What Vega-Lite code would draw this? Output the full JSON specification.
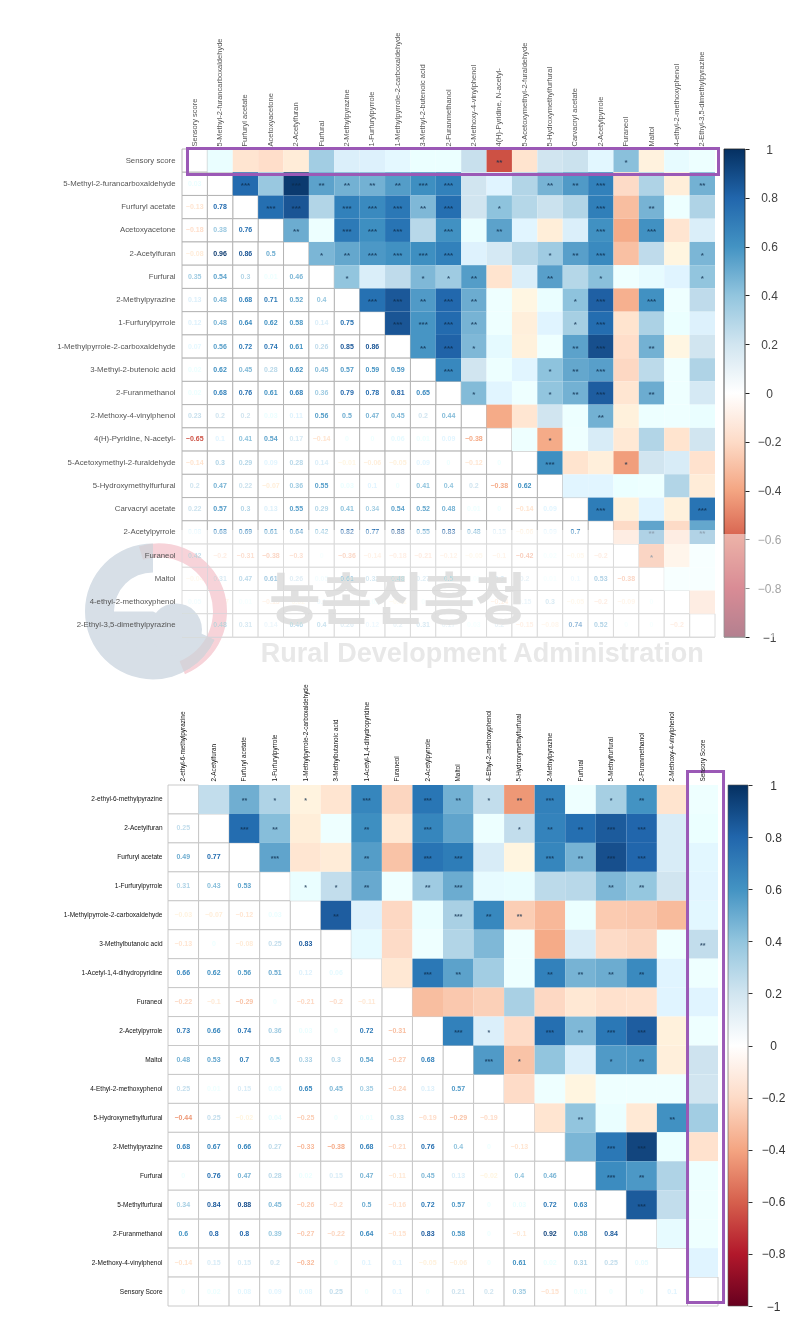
{"$schema":"https://vega.github.io/schema/vega-lite/v6.json","padding":0,"background":"white","config":{"view":{"stroke":null},"axis":{"grid":false}},
"datasets":{"top":[
{"i":0,"j":0},{"i":1,"j":1},{"i":2,"j":2},{"i":3,"j":3},{"i":4,"j":4},{"i":5,"j":5},{"i":6,"j":6},{"i":7,"j":7},{"i":8,"j":8},{"i":9,"j":9},{"i":10,"j":10},{"i":11,"j":11},{"i":12,"j":12},{"i":13,"j":13},{"i":14,"j":14},{"i":15,"j":15},{"i":16,"j":16},{"i":17,"j":17},{"i":18,"j":18},{"i":19,"j":19},{"i":20,"j":20},
{"i":0,"j":1,"v":0.03},{"i":0,"j":2,"v":-0.13},{"i":0,"j":3,"v":-0.18},{"i":0,"j":4,"v":-0.08},{"i":0,"j":5,"v":0.35},{"i":0,"j":6,"v":0.13},{"i":0,"j":7,"v":0.12},{"i":0,"j":8,"v":0.07},{"i":0,"j":9,"v":0.02},{"i":0,"j":10,"v":0.02},{"i":0,"j":11,"v":0.23},{"i":0,"j":12,"v":-0.65,"s":"**"},{"i":0,"j":13,"v":-0.14},{"i":0,"j":14,"v":0.2},{"i":0,"j":15,"v":0.22},{"i":0,"j":16,"v":0.08},{"i":0,"j":17,"v":0.42,"s":"*"},{"i":0,"j":18,"v":-0.04},{"i":0,"j":19,"v":0.05},{"i":0,"j":20,"v":0.01},
{"i":1,"j":2,"v":0.78,"s":"***"},{"i":1,"j":3,"v":0.38},{"i":1,"j":4,"v":0.96,"s":"***"},{"i":1,"j":5,"v":0.54,"s":"**"},{"i":1,"j":6,"v":0.48,"s":"**"},{"i":1,"j":7,"v":0.48,"s":"**"},{"i":1,"j":8,"v":0.56,"s":"**"},{"i":1,"j":9,"v":0.62,"s":"***"},{"i":1,"j":10,"v":0.68,"s":"***"},{"i":1,"j":11,"v":0.2},{"i":1,"j":12,"v":0.1},{"i":1,"j":13,"v":0.3},{"i":1,"j":14,"v":0.47,"s":"**"},{"i":1,"j":15,"v":0.57,"s":"**"},{"i":1,"j":16,"v":0.68,"s":"***"},{"i":1,"j":17,"v":-0.2},{"i":1,"j":18,"v":0.31},{"i":1,"j":19,"v":-0.07},{"i":1,"j":20,"v":0.48,"s":"**"},
{"i":2,"j":3,"v":0.76,"s":"***"},{"i":2,"j":4,"v":0.86,"s":"***"},{"i":2,"j":5,"v":0.3},{"i":2,"j":6,"v":0.68,"s":"***"},{"i":2,"j":7,"v":0.64,"s":"***"},{"i":2,"j":8,"v":0.72,"s":"***"},{"i":2,"j":9,"v":0.45,"s":"**"},{"i":2,"j":10,"v":0.76,"s":"***"},{"i":2,"j":11,"v":0.2},{"i":2,"j":12,"v":0.41,"s":"*"},{"i":2,"j":13,"v":0.29},{"i":2,"j":14,"v":0.22},{"i":2,"j":15,"v":0.3},{"i":2,"j":16,"v":0.69,"s":"***"},{"i":2,"j":17,"v":-0.31},{"i":2,"j":18,"v":0.47,"s":"**"},{"i":2,"j":19,"v":0.01},{"i":2,"j":20,"v":0.31},
{"i":3,"j":4,"v":0.5,"s":"**"},{"i":3,"j":5,"v":0.01},{"i":3,"j":6,"v":0.71,"s":"***"},{"i":3,"j":7,"v":0.62,"s":"***"},{"i":3,"j":8,"v":0.74,"s":"***"},{"i":3,"j":9,"v":0.28},{"i":3,"j":10,"v":0.61,"s":"***"},{"i":3,"j":11,"v":0.03},{"i":3,"j":12,"v":0.54,"s":"**"},{"i":3,"j":13,"v":0.09},{"i":3,"j":14,"v":-0.07},{"i":3,"j":15,"v":0.13},{"i":3,"j":16,"v":0.61,"s":"***"},{"i":3,"j":17,"v":-0.38},{"i":3,"j":18,"v":0.61,"s":"***"},{"i":3,"j":19,"v":-0.13},{"i":3,"j":20,"v":0.14},
{"i":4,"j":5,"v":0.46,"s":"*"},{"i":4,"j":6,"v":0.52,"s":"**"},{"i":4,"j":7,"v":0.58,"s":"***"},{"i":4,"j":8,"v":0.61,"s":"***"},{"i":4,"j":9,"v":0.62,"s":"***"},{"i":4,"j":10,"v":0.68,"s":"***"},{"i":4,"j":11,"v":0.11},{"i":4,"j":12,"v":0.17},{"i":4,"j":13,"v":0.28},{"i":4,"j":14,"v":0.36,"s":"*"},{"i":4,"j":15,"v":0.55,"s":"**"},{"i":4,"j":16,"v":0.64,"s":"***"},{"i":4,"j":17,"v":-0.3},{"i":4,"j":18,"v":0.26},{"i":4,"j":19,"v":-0.02},{"i":4,"j":20,"v":0.46,"s":"*"},
{"i":5,"j":6,"v":0.4,"s":"*"},{"i":5,"j":7,"v":0.14},{"i":5,"j":8,"v":0.26},{"i":5,"j":9,"v":0.45,"s":"*"},{"i":5,"j":10,"v":0.36,"s":"*"},{"i":5,"j":11,"v":0.56,"s":"**"},{"i":5,"j":12,"v":-0.14},{"i":5,"j":13,"v":0.14},{"i":5,"j":14,"v":0.55,"s":"**"},{"i":5,"j":15,"v":0.29},{"i":5,"j":16,"v":0.42,"s":"*"},{"i":5,"j":17,"v":0},{"i":5,"j":18,"v":0.05},{"i":5,"j":19,"v":0.1},{"i":5,"j":20,"v":0.4,"s":"*"},
{"i":6,"j":7,"v":0.75,"s":"***"},{"i":6,"j":8,"v":0.85,"s":"***"},{"i":6,"j":9,"v":0.57,"s":"**"},{"i":6,"j":10,"v":0.79,"s":"***"},{"i":6,"j":11,"v":0.5,"s":"**"},{"i":6,"j":12,"v":0},{"i":6,"j":13,"v":-0.01},{"i":6,"j":14,"v":0.03},{"i":6,"j":15,"v":0.41,"s":"*"},{"i":6,"j":16,"v":0.82,"s":"***"},{"i":6,"j":17,"v":-0.36},{"i":6,"j":18,"v":0.61,"s":"***"},{"i":6,"j":19,"v":0},{"i":6,"j":20,"v":0.26},
{"i":7,"j":8,"v":0.86,"s":"***"},{"i":7,"j":9,"v":0.59,"s":"***"},{"i":7,"j":10,"v":0.78,"s":"***"},{"i":7,"j":11,"v":0.47,"s":"**"},{"i":7,"j":12,"v":0},{"i":7,"j":13,"v":-0.06},{"i":7,"j":14,"v":0.1},{"i":7,"j":15,"v":0.34,"s":"*"},{"i":7,"j":16,"v":0.77,"s":"***"},{"i":7,"j":17,"v":-0.14},{"i":7,"j":18,"v":0.32},{"i":7,"j":19,"v":0.02},{"i":7,"j":20,"v":0.12},
{"i":8,"j":9,"v":0.59,"s":"**"},{"i":8,"j":10,"v":0.81,"s":"***"},{"i":8,"j":11,"v":0.45,"s":"*"},{"i":8,"j":12,"v":0.06},{"i":8,"j":13,"v":-0.05},{"i":8,"j":14,"v":0},{"i":8,"j":15,"v":0.54,"s":"**"},{"i":8,"j":16,"v":0.88,"s":"***"},{"i":8,"j":17,"v":-0.18},{"i":8,"j":18,"v":0.48,"s":"**"},{"i":8,"j":19,"v":-0.01},{"i":8,"j":20,"v":0.2},
{"i":9,"j":10,"v":0.65,"s":"***"},{"i":9,"j":11,"v":0.2},{"i":9,"j":12,"v":0.01},{"i":9,"j":13,"v":0.09},{"i":9,"j":14,"v":0.41,"s":"*"},{"i":9,"j":15,"v":0.52,"s":"**"},{"i":9,"j":16,"v":0.55,"s":"***"},{"i":9,"j":17,"v":-0.21},{"i":9,"j":18,"v":0.27},{"i":9,"j":19,"v":0},{"i":9,"j":20,"v":0.31},
{"i":10,"j":11,"v":0.44,"s":"*"},{"i":10,"j":12,"v":0.09},{"i":10,"j":13,"v":0},{"i":10,"j":14,"v":0.4,"s":"*"},{"i":10,"j":15,"v":0.48,"s":"**"},{"i":10,"j":16,"v":0.83,"s":"***"},{"i":10,"j":17,"v":-0.12},{"i":10,"j":18,"v":0.5,"s":"**"},{"i":10,"j":19,"v":0},{"i":10,"j":20,"v":0.17},
{"i":11,"j":12,"v":-0.38},{"i":11,"j":13,"v":-0.12},{"i":11,"j":14,"v":0.2},{"i":11,"j":15,"v":0.01},{"i":11,"j":16,"v":0.48,"s":"**"},{"i":11,"j":17,"v":-0.05},{"i":11,"j":18,"v":0.01},{"i":11,"j":19,"v":0},{"i":11,"j":20,"v":0.03},
{"i":12,"j":13,"v":0},{"i":12,"j":14,"v":-0.38,"s":"*"},{"i":12,"j":15,"v":0},{"i":12,"j":16,"v":0.15},{"i":12,"j":17,"v":-0.1},{"i":12,"j":18,"v":0.3},{"i":12,"j":19,"v":-0.14},{"i":12,"j":20,"v":0.2},
{"i":13,"j":14,"v":0.62,"s":"***"},{"i":13,"j":15,"v":-0.14},{"i":13,"j":16,"v":-0.06},{"i":13,"j":17,"v":-0.42,"s":"*"},{"i":13,"j":18,"v":0.2},{"i":13,"j":19,"v":0.15},{"i":13,"j":20,"v":-0.15},
{"i":14,"j":15,"v":0.09},{"i":14,"j":16,"v":0.09},{"i":14,"j":17,"v":0.02},{"i":14,"j":18,"v":0.01},{"i":14,"j":19,"v":0.3},{"i":14,"j":20,"v":-0.08},
{"i":15,"j":16,"v":0.7,"s":"***"},{"i":15,"j":17,"v":-0.05},{"i":15,"j":18,"v":0.1},{"i":15,"j":19,"v":-0.05},{"i":15,"j":20,"v":0.74,"s":"***"},
{"i":16,"j":17,"v":-0.2},{"i":16,"j":18,"v":0.53,"s":"**"},{"i":16,"j":19,"v":-0.2},{"i":16,"j":20,"v":0.52,"s":"**"},
{"i":17,"j":18,"v":-0.38,"s":"*"},{"i":17,"j":19,"v":-0.09},{"i":17,"j":20,"v":0},
{"i":18,"j":19,"v":0},{"i":18,"j":20,"v":0},{"i":19,"j":20,"v":-0.2}],
"bottom":[
{"i":0,"j":0},{"i":1,"j":1},{"i":2,"j":2},{"i":3,"j":3},{"i":4,"j":4},{"i":5,"j":5},{"i":6,"j":6},{"i":7,"j":7},{"i":8,"j":8},{"i":9,"j":9},{"i":10,"j":10},{"i":11,"j":11},{"i":12,"j":12},{"i":13,"j":13},{"i":14,"j":14},{"i":15,"j":15},{"i":16,"j":16},{"i":17,"j":17},
{"i":0,"j":1,"v":0.25},{"i":0,"j":2,"v":0.49,"s":"**"},{"i":0,"j":3,"v":0.31,"s":"*"},{"i":0,"j":4,"v":-0.03,"s":"*"},{"i":0,"j":5,"v":-0.13},{"i":0,"j":6,"v":0.66,"s":"***"},{"i":0,"j":7,"v":-0.22},{"i":0,"j":8,"v":0.73,"s":"***"},{"i":0,"j":9,"v":0.48,"s":"**"},{"i":0,"j":10,"v":0.25,"s":"*"},{"i":0,"j":11,"v":-0.44,"s":"**"},{"i":0,"j":12,"v":0.68,"s":"***"},{"i":0,"j":13,"v":0},{"i":0,"j":14,"v":0.34,"s":"*"},{"i":0,"j":15,"v":0.6,"s":"**"},{"i":0,"j":16,"v":-0.14},{"i":0,"j":17,"v":0},
{"i":1,"j":2,"v":0.77,"s":"***"},{"i":1,"j":3,"v":0.43,"s":"**"},{"i":1,"j":4,"v":-0.07},{"i":1,"j":5,"v":0},{"i":1,"j":6,"v":0.62,"s":"**"},{"i":1,"j":7,"v":-0.1},{"i":1,"j":8,"v":0.66,"s":"***"},{"i":1,"j":9,"v":0.53},{"i":1,"j":10,"v":0.01},{"i":1,"j":11,"v":0.25,"s":"*"},{"i":1,"j":12,"v":0.67,"s":"**"},{"i":1,"j":13,"v":0.76,"s":"**"},{"i":1,"j":14,"v":0.84,"s":"***"},{"i":1,"j":15,"v":0.8,"s":"***"},{"i":1,"j":16,"v":0.15},{"i":1,"j":17,"v":0.02},
{"i":2,"j":3,"v":0.53,"s":"***"},{"i":2,"j":4,"v":-0.12},{"i":2,"j":5,"v":-0.08},{"i":2,"j":6,"v":0.56,"s":"**"},{"i":2,"j":7,"v":-0.29},{"i":2,"j":8,"v":0.74,"s":"***"},{"i":2,"j":9,"v":0.7,"s":"***"},{"i":2,"j":10,"v":0.15},{"i":2,"j":11,"v":-0.02},{"i":2,"j":12,"v":0.66,"s":"***"},{"i":2,"j":13,"v":0.47,"s":"**"},{"i":2,"j":14,"v":0.88,"s":"***"},{"i":2,"j":15,"v":0.8,"s":"***"},{"i":2,"j":16,"v":0.15},{"i":2,"j":17,"v":0.08},
{"i":3,"j":4,"v":0.03,"s":"*"},{"i":3,"j":5,"v":0.25,"s":"*"},{"i":3,"j":6,"v":0.51,"s":"**"},{"i":3,"j":7,"v":0},{"i":3,"j":8,"v":0.36,"s":"**"},{"i":3,"j":9,"v":0.5,"s":"***"},{"i":3,"j":10,"v":0.05},{"i":3,"j":11,"v":0.04},{"i":3,"j":12,"v":0.27},{"i":3,"j":13,"v":0.28},{"i":3,"j":14,"v":0.45,"s":"**"},{"i":3,"j":15,"v":0.39,"s":"**"},{"i":3,"j":16,"v":0.2},{"i":3,"j":17,"v":0.09},
{"i":4,"j":5,"v":0.83,"s":"**"},{"i":4,"j":6,"v":0.12},{"i":4,"j":7,"v":-0.21},{"i":4,"j":8,"v":0.03},{"i":4,"j":9,"v":0.33,"s":"***"},{"i":4,"j":10,"v":0.65,"s":"**"},{"i":4,"j":11,"v":-0.25,"s":"**"},{"i":4,"j":12,"v":-0.33},{"i":4,"j":13,"v":0.02},{"i":4,"j":14,"v":-0.26},{"i":4,"j":15,"v":-0.27},{"i":4,"j":16,"v":-0.32},{"i":4,"j":17,"v":0.08},
{"i":5,"j":6,"v":0.06},{"i":5,"j":7,"v":-0.2},{"i":5,"j":8,"v":0},{"i":5,"j":9,"v":0.3},{"i":5,"j":10,"v":0.45},{"i":5,"j":11,"v":0},{"i":5,"j":12,"v":-0.38},{"i":5,"j":13,"v":0.15},{"i":5,"j":14,"v":-0.2},{"i":5,"j":15,"v":-0.22},{"i":5,"j":16,"v":0},{"i":5,"j":17,"v":0.25,"s":"**"},
{"i":6,"j":7,"v":-0.11},{"i":6,"j":8,"v":0.72,"s":"***"},{"i":6,"j":9,"v":0.54,"s":"**"},{"i":6,"j":10,"v":0.35},{"i":6,"j":11,"v":0.01},{"i":6,"j":12,"v":0.68,"s":"**"},{"i":6,"j":13,"v":0.47,"s":"**"},{"i":6,"j":14,"v":0.5,"s":"**"},{"i":6,"j":15,"v":0.64,"s":"**"},{"i":6,"j":16,"v":0.1},{"i":6,"j":17,"v":0},
{"i":7,"j":8,"v":-0.31},{"i":7,"j":9,"v":-0.27},{"i":7,"j":10,"v":-0.24},{"i":7,"j":11,"v":0.33},{"i":7,"j":12,"v":-0.21},{"i":7,"j":13,"v":-0.11},{"i":7,"j":14,"v":-0.16},{"i":7,"j":15,"v":-0.15},{"i":7,"j":16,"v":0.1},{"i":7,"j":17,"v":0.1},
{"i":8,"j":9,"v":0.68,"s":"***"},{"i":8,"j":10,"v":0.13,"s":"*"},{"i":8,"j":11,"v":-0.19},{"i":8,"j":12,"v":0.76,"s":"***"},{"i":8,"j":13,"v":0.45,"s":"**"},{"i":8,"j":14,"v":0.72,"s":"***"},{"i":8,"j":15,"v":0.83,"s":"***"},{"i":8,"j":16,"v":-0.05},{"i":8,"j":17,"v":0},
{"i":9,"j":10,"v":0.57,"s":"***"},{"i":9,"j":11,"v":-0.29,"s":"*"},{"i":9,"j":12,"v":0.4},{"i":9,"j":13,"v":0.13},{"i":9,"j":14,"v":0.57,"s":"*"},{"i":9,"j":15,"v":0.58,"s":"**"},{"i":9,"j":16,"v":-0.06},{"i":9,"j":17,"v":0.21},
{"i":10,"j":11,"v":-0.19},{"i":10,"j":12,"v":0},{"i":10,"j":13,"v":-0.02},{"i":10,"j":14,"v":0},{"i":10,"j":15,"v":0},{"i":10,"j":16,"v":0},{"i":10,"j":17,"v":0.2},
{"i":11,"j":12,"v":-0.13},{"i":11,"j":13,"v":0.4,"s":"**"},{"i":11,"j":14,"v":0.03},{"i":11,"j":15,"v":-0.1},{"i":11,"j":16,"v":0.61,"s":"**"},{"i":11,"j":17,"v":0.35},
{"i":12,"j":13,"v":0.46},{"i":12,"j":14,"v":0.72,"s":"***"},{"i":12,"j":15,"v":0.92,"s":"***"},{"i":12,"j":16,"v":0.02},{"i":12,"j":17,"v":-0.15},
{"i":13,"j":14,"v":0.63,"s":"***"},{"i":13,"j":15,"v":0.58,"s":"**"},{"i":13,"j":16,"v":0.31},{"i":13,"j":17,"v":0.01},
{"i":14,"j":15,"v":0.84,"s":"***"},{"i":14,"j":16,"v":0.25},{"i":14,"j":17,"v":0},
{"i":15,"j":16,"v":0.05},{"i":15,"j":17,"v":0},{"i":16,"j":17,"v":0.1}]},
"spacing":4,"vconcat":[
{"spacing":2,"hconcat":[
{"width":547,"height":488,"layer":[
{"data":{"name":"top"},"mark":{"type":"rect","fill":"white","stroke":"#b0b0b0","strokeWidth":0.9},"encoding":{
"x":{"field":"i","type":"ordinal","scale":{"domain":[0,1,2,3,4,5,6,7,8,9,10,11,12,13,14,15,16,17,18,19,20],"range":[14,547],"paddingInner":0,"paddingOuter":0},"axis":{"title":null,"orient":"top","ticks":false,"domain":false,"labelAngle":-90,"labelAlign":"left","labelBaseline":"middle","labelFont":"Liberation Sans","labelFontSize":7.5,"labelColor":"#555","labelPadding":3,"labelOverlap":false,"labelLimit":300,"minExtent":149,"maxExtent":149,"labelExpr":"['Sensory score','5-Methyl-2-furancarboxaldehyde','Furfuryl acetate','Acetoxyacetone','2-Acetylfuran','Furfural','2-Methylpyrazine','1-Furfurylpyrrole','1-Methylpyrrole-2-carboxaldehyde','3-Methyl-2-butenoic acid','2-Furanmethanol','2-Methoxy-4-vinylphenol','4(H)-Pyridine, N-acetyl-','5-Acetoxymethyl-2-furaldehyde','5-Hydroxymethylfurfural','Carvacryl acetate','2-Acetylpyrrole','Furaneol','Maltol','4-ethyl-2-methoxyphenol','2-Ethyl-3,5-dimethylpyrazine'][datum.value]"}},
"y":{"field":"j","type":"ordinal","scale":{"domain":[0,1,2,3,4,5,6,7,8,9,10,11,12,13,14,15,16,17,18,19,20],"paddingInner":0,"paddingOuter":0},"axis":{"title":null,"ticks":false,"domain":false,"labelFont":"Liberation Sans","labelFontSize":7.8,"labelColor":"#555","labelPadding":-7,"labelOverlap":false,"labelLimit":300,"minExtent":167,"maxExtent":167,"labelExpr":"['Sensory score','5-Methyl-2-furancarboxaldehyde','Furfuryl acetate','Acetoxyacetone','2-Acetylfuran','Furfural','2-Methylpyrazine','1-Furfurylpyrrole','1-Methylpyrrole-2-carboxaldehyde','3-Methyl-2-butenoic acid','2-Furanmethanol','2-Methoxy-4-vinylphenol','4(H)-Pyridine, N-acetyl-','5-Acetoxymethyl-2-furaldehyde','5-Hydroxymethylfurfural','Carvacryl acetate','2-Acetylpyrrole','Furaneol','Maltol','4-ethyl-2-methoxyphenol','2-Ethyl-3,5-dimethylpyrazine'][datum.value]"}}}},
{"data":{"name":"top"},"transform":[{"filter":"datum.i<datum.j"}],"mark":{"type":"rect"},"encoding":{"x":{"field":"j","type":"ordinal"},"y":{"field":"i","type":"ordinal"},"color":{"field":"v","type":"quantitative","legend":null,"scale":{"domain":[-1,-0.8,-0.6,-0.4,-0.2,0,0.2,0.4,0.6,0.8,1],"range":["#67001F","#B2182B","#D6604D","#F4A582","#FDDBC7","#FFFFFF","#D1E5F0","#92C5DE","#4393C3","#2166AC","#053061"]}}}},
{"data":{"name":"top"},"transform":[{"filter":"datum.s"}],"mark":{"type":"text","font":"Liberation Sans","fontSize":8,"fontWeight":"bold","color":"#0b2a4a","opacity":0.75,"dy":2},"encoding":{"x":{"field":"j","type":"ordinal"},"y":{"field":"i","type":"ordinal"},"text":{"field":"s","type":"nominal"}}},
{"data":{"name":"top"},"transform":[{"filter":"datum.i<datum.j"}],"mark":{"type":"text","font":"Liberation Sans","fontSize":7,"fontWeight":"bold"},"encoding":{"x":{"field":"i","type":"ordinal"},"y":{"field":"j","type":"ordinal"},"text":{"field":"v","type":"quantitative"},"color":{"field":"v","type":"quantitative","legend":null}}},
{"data":{"values":[{"a":0,"b":20,"r":16,"t":20}]},"mark":{"type":"rect","fill":"white","opacity":0.5,"xOffset":-193.7,"x2Offset":15.7,"yOffset":-2.4,"y2Offset":11.6},"encoding":{"x":{"field":"a","type":"ordinal"},"x2":{"field":"b"},"y":{"field":"r","type":"ordinal"},"y2":{"field":"t"}}},
{"data":{"values":[{"i":0,"r":20}]},"mark":{"type":"arc","fill":"#d7dfe7","blend":"darken","radius":68,"radius2":39,"theta":3.1416,"theta2":6.2832,"xOffset":-41.7,"yOffset":-14},"encoding":{"x":{"field":"i","type":"ordinal"},"y":{"field":"r","type":"ordinal"}}},
{"data":{"values":[{"i":0,"r":20}]},"mark":{"type":"arc","fill":"#d7dfe7","blend":"darken","radius":68,"radius2":0,"theta":2,"theta2":3.1416,"xOffset":-41.7,"yOffset":-14},"encoding":{"x":{"field":"i","type":"ordinal"},"y":{"field":"r","type":"ordinal"}}},
{"data":{"values":[{"i":0,"r":20}]},"mark":{"type":"arc","fill":"#d7dfe7","blend":"darken","radius":40,"radius2":0,"theta":3.1416,"theta2":4.7124,"xOffset":-41.7,"yOffset":-14},"encoding":{"x":{"field":"i","type":"ordinal"},"y":{"field":"r","type":"ordinal"}}},
{"data":{"values":[{"i":0,"r":20}]},"mark":{"type":"arc","fill":"#d7dfe7","blend":"darken","radius":26,"radius2":0,"theta":0,"theta2":6.2832,"xOffset":-18.7,"yOffset":4},"encoding":{"x":{"field":"i","type":"ordinal"},"y":{"field":"r","type":"ordinal"}}},
{"data":{"values":[{"i":0,"r":20}]},"mark":{"type":"arc","fill":"#f7d3d9","blend":"darken","radius":68,"radius2":54,"theta":-0.3,"theta2":2.75,"xOffset":-35.7,"yOffset":-14},"encoding":{"x":{"field":"i","type":"ordinal"},"y":{"field":"r","type":"ordinal"}}},
{"data":{"values":[{"i":8,"r":19,"t":"농촌진흥청"}]},"mark":{"type":"text","font":"Noto Sans CJK KR","fontSize":56,"fontWeight":"bold","color":"#e0e0e0","blend":"darken","align":"center","baseline":"middle"},"encoding":{"x":{"field":"i","type":"ordinal"},"y":{"field":"r","type":"ordinal"},"text":{"field":"t","type":"nominal"}}},
{"data":{"values":[{"i":12,"r":20,"t":"Rural Development Administration"}]},"mark":{"type":"text","font":"Liberation Sans","fontSize":27,"fontWeight":"bold","color":"#e8e8e8","blend":"darken","align":"center","baseline":"middle","dx":-17,"dy":29},"encoding":{"x":{"field":"i","type":"ordinal"},"y":{"field":"r","type":"ordinal"},"text":{"field":"t","type":"nominal"}}},
{"data":{"values":[{"a":0,"b":20,"r":0,"t":0}]},"mark":{"type":"rect","fillOpacity":0,"stroke":"#9B59B6","strokeWidth":3,"xOffset":-7.2,"x2Offset":16.2,"yOffset":-12.1,"y2Offset":13.9},"encoding":{"x":{"field":"a","type":"ordinal"},"x2":{"field":"b"},"y":{"field":"r","type":"ordinal"},"y2":{"field":"t"}}}
]},
{"width":21,"height":488,"data":{"values":[{"lo":-1,"hi":1,"a":0,"b":1}]},"layer":[
{"mark":{"type":"rect","stroke":"#222","strokeWidth":0.8,"color":{"gradient":"linear","x1":0,"y1":1,"x2":0,"y2":0,"stops":[{"offset":0,"color":"#67001F"},{"offset":0.1,"color":"#B2182B"},{"offset":0.2,"color":"#D6604D"},{"offset":0.3,"color":"#F4A582"},{"offset":0.4,"color":"#FDDBC7"},{"offset":0.5,"color":"#FFFFFF"},{"offset":0.6,"color":"#D1E5F0"},{"offset":0.7,"color":"#92C5DE"},{"offset":0.8,"color":"#4393C3"},{"offset":0.9,"color":"#2166AC"},{"offset":1,"color":"#053061"}]}},"encoding":{
"x":{"field":"a","type":"quantitative","scale":{"domain":[0,1]},"axis":{"title":null,"orient":"top","labels":false,"ticks":false,"domain":false,"minExtent":149,"maxExtent":149}},"x2":{"field":"b"},
"y":{"field":"lo","type":"quantitative","scale":{"domain":[-1,1],"nice":false},"axis":{"title":null,"orient":"right","domain":false,"values":[-1,-0.8,-0.6,-0.4,-0.2,0,0.2,0.4,0.6,0.8,1],"format":"~g","tickSize":4,"tickColor":"#222","labelAlign":"center","labelPadding":20,"labelFont":"Liberation Sans","labelFontSize":12,"labelColor":"#444","labelOverlap":false}},"y2":{"field":"hi"}}},
{"data":{"values":[{"lo":-1,"hi":-0.578,"a":0,"b":1}]},"mark":{"type":"rect","fill":"white","opacity":0.5,"xOffset":-1,"x2Offset":44},"encoding":{"x":{"field":"a","type":"quantitative"},"x2":{"field":"b"},"y":{"field":"lo","type":"quantitative"},"y2":{"field":"hi"}}}
]}]},
{"spacing":1,"hconcat":[
{"width":550,"height":521,"layer":[
{"data":{"name":"bottom"},"mark":{"type":"rect","fill":"white","stroke":"#c4c4c4","strokeWidth":0.9},"encoding":{
"x":{"field":"i","type":"ordinal","scale":{"domain":[0,1,2,3,4,5,6,7,8,9,10,11,12,13,14,15,16,17],"paddingInner":0,"paddingOuter":0},"axis":{"title":null,"orient":"top","ticks":false,"domain":false,"labelAngle":-90,"labelAlign":"left","labelBaseline":"middle","labelFont":"Liberation Sans","labelFontSize":6.4,"labelColor":"#111","labelPadding":4,"labelOverlap":false,"labelLimit":300,"minExtent":100,"maxExtent":100,"labelExpr":"['2-ethyl-6-methylpyrazine','2-Acetylfuran','Furfuryl acetate','1-Furfurylpyrrole','1-Methylpyrrole-2-carboxaldehyde','3-Methylbutanoic acid','1-Acetyl-1,4-dihydropyridine','Furaneol','2-Acetylpyrrole','Maltol','4-Ethyl-2-methoxyphenol','5-Hydroxymethylfurfural','2-Methylpyrazine','Furfural','5-Methylfurfural','2-Furanmethanol','2-Methoxy-4-vinylphenol','Sensory Score'][datum.value]"}},
"y":{"field":"j","type":"ordinal","scale":{"domain":[0,1,2,3,4,5,6,7,8,9,10,11,12,13,14,15,16,17],"paddingInner":0,"paddingOuter":0},"axis":{"title":null,"ticks":false,"domain":false,"labelFont":"Liberation Sans","labelFontSize":6.5,"labelColor":"#111","labelPadding":6,"labelOverlap":false,"labelLimit":300,"minExtent":167,"maxExtent":167,"labelExpr":"['2-ethyl-6-methylpyrazine','2-Acetylfuran','Furfuryl acetate','1-Furfurylpyrrole','1-Methylpyrrole-2-carboxaldehyde','3-Methylbutanoic acid','1-Acetyl-1,4-dihydropyridine','Furaneol','2-Acetylpyrrole','Maltol','4-Ethyl-2-methoxyphenol','5-Hydroxymethylfurfural','2-Methylpyrazine','Furfural','5-Methylfurfural','2-Furanmethanol','2-Methoxy-4-vinylphenol','Sensory Score'][datum.value]"}}}},
{"data":{"name":"bottom"},"transform":[{"filter":"datum.i<datum.j"}],"mark":{"type":"rect"},"encoding":{"x":{"field":"j","type":"ordinal"},"y":{"field":"i","type":"ordinal"},"color":{"field":"v","type":"quantitative","legend":null,"scale":{"domain":[-1,-0.8,-0.6,-0.4,-0.2,0,0.2,0.4,0.6,0.8,1],"range":["#67001F","#B2182B","#D6604D","#F4A582","#FDDBC7","#FFFFFF","#D1E5F0","#92C5DE","#4393C3","#2166AC","#053061"]}}}},
{"data":{"name":"bottom"},"transform":[{"filter":"datum.s"}],"mark":{"type":"text","font":"Liberation Sans","fontSize":7,"fontWeight":"bold","color":"#0b2a4a","opacity":0.75,"dy":2},"encoding":{"x":{"field":"j","type":"ordinal"},"y":{"field":"i","type":"ordinal"},"text":{"field":"s","type":"nominal"}}},
{"data":{"name":"bottom"},"transform":[{"filter":"datum.i<datum.j"}],"mark":{"type":"text","font":"Liberation Sans","fontSize":7,"fontWeight":"bold"},"encoding":{"x":{"field":"i","type":"ordinal"},"y":{"field":"j","type":"ordinal"},"text":{"field":"v","type":"quantitative"},"color":{"field":"v","type":"quantitative","legend":null}}},
{"data":{"values":[{"a":17,"b":17,"r":0,"t":17}]},"mark":{"type":"rect","fillOpacity":0,"stroke":"#9B59B6","strokeWidth":3,"xOffset":-15.2,"x2Offset":20.8,"yOffset":-28,"y2Offset":11},"encoding":{"x":{"field":"a","type":"ordinal"},"x2":{"field":"b"},"y":{"field":"r","type":"ordinal"},"y2":{"field":"t"}}}
]},
{"width":20,"height":521,"data":{"values":[{"lo":-1,"hi":1,"a":0,"b":1}]},"mark":{"type":"rect","stroke":"#555","strokeWidth":0.6,"color":{"gradient":"linear","x1":0,"y1":1,"x2":0,"y2":0,"stops":[{"offset":0,"color":"#67001F"},{"offset":0.1,"color":"#B2182B"},{"offset":0.2,"color":"#D6604D"},{"offset":0.3,"color":"#F4A582"},{"offset":0.4,"color":"#FDDBC7"},{"offset":0.5,"color":"#FFFFFF"},{"offset":0.6,"color":"#D1E5F0"},{"offset":0.7,"color":"#92C5DE"},{"offset":0.8,"color":"#4393C3"},{"offset":0.9,"color":"#2166AC"},{"offset":1,"color":"#053061"}]}},"encoding":{
"x":{"field":"a","type":"quantitative","scale":{"domain":[0,1]},"axis":{"title":null,"orient":"top","labels":false,"ticks":false,"domain":false,"minExtent":100,"maxExtent":100}},"x2":{"field":"b"},
"y":{"field":"lo","type":"quantitative","scale":{"domain":[-1,1],"nice":false},"axis":{"title":null,"orient":"right","domain":false,"values":[-1,-0.8,-0.6,-0.4,-0.2,0,0.2,0.4,0.6,0.8,1],"format":"~g","tickSize":4,"tickColor":"#333","labelAlign":"center","labelPadding":21,"labelFont":"Liberation Sans","labelFontSize":12,"labelColor":"#333","labelOverlap":false}},"y2":{"field":"hi"}}}
]}]}
